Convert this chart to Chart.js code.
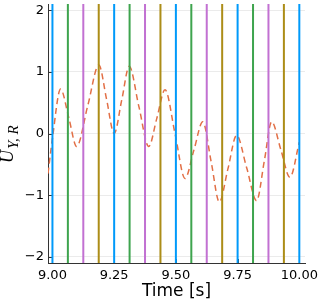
<!DOCTYPE html>
<html>
<head>
<meta charset="utf-8">
<script src="https://cdn.jsdelivr.net/npm/chart.js@4/dist/chart.umd.min.js"></script>
<style>
html,body{margin:0;padding:0;background:#fff;}
#c{display:block;}
</style>
</head>
<body>
<canvas id="c" width="320" height="304"></canvas>
<script>
// ---- data ----
const curveTime  = [8.982, 9.000, 9.033, 9.066, 9.098, 9.143, 9.188, 9.219, 9.250, 9.281, 9.311, 9.350, 9.390, 9.423, 9.456, 9.497, 9.537, 9.573, 9.609, 9.643, 9.676, 9.711, 9.746, 9.787, 9.827, 9.858, 9.888, 9.925, 9.962, 10.000];
const curveValue = [-0.65, -0.08, 0.72, 0.26, -0.21, 0.45, 1.11, 0.56, 0.00, 0.55, 1.09, 0.44, -0.21, 0.25, 0.71, -0.01, -0.73, -0.27, 0.19, -0.46, -1.11, -0.57, -0.03, -0.56, -1.09, -0.45, 0.19, -0.26, -0.71, -0.14];

const blueTimes   = [9.0, 9.25, 9.5, 9.75, 10.0];
const greenTimes  = [9.0625, 9.3125, 9.5625, 9.8125];
const purpleTimes = [9.125, 9.375, 9.625, 9.875];
const goldTimes   = [9.1875, 9.4375, 9.6875, 9.9375];

const xTicks = [9.0, 9.25, 9.5, 9.75, 10.0];
const yTicks = [-2, -1, 0, 1, 2];

const X_MIN = 8.982, X_MAX = 10.023;
const Y_MIN = -2.1, Y_MAX = 2.1;

// ---- build datasets ----
function vlineData(times) {
  const out = [];
  times.forEach(t => { out.push({x: t, y: Y_MIN}); out.push({x: t, y: Y_MAX}); out.push({x: t, y: null}); });
  return out;
}
function vlineSet(times, color) {
  return { data: vlineData(times), borderColor: color, borderWidth: 2, pointRadius: 0, spanGaps: false, fill: false, tension: 0 };
}

const datasets = [
  vlineSet(blueTimes, '#009AFA'),
  vlineSet(greenTimes, '#3EA44E'),
  vlineSet(purpleTimes, '#C271D2'),
  vlineSet(goldTimes, '#AC8D18'),
  {
    data: curveTime.map((t, i) => ({x: t, y: curveValue[i]})),
    borderColor: '#E26F46', borderWidth: 1.5, borderDash: [6, 4],
    pointRadius: 0, fill: false, cubicInterpolationMode: 'monotone'
  }
];

const yTitlePlugin = {
  id: 'yTitle',
  afterDraw(chart) {
    const ctx = chart.ctx;
    ctx.save();
    ctx.translate(13, 163);
    ctx.rotate(-Math.PI / 2);
    ctx.fillStyle = '#000';
    ctx.textBaseline = 'alphabetic';
    ctx.textAlign = 'left';
    ctx.font = 'italic 18px "Liberation Serif"';
    ctx.fillText('U', 0, 0);
    const w = ctx.measureText('U').width;
    ctx.font = 'italic 15px "Liberation Serif"';
    ctx.fillText('Y, R', w + 1, 5);
    ctx.restore();
  }
};

const innerTicksPlugin = {
  id: 'innerTicks',
  beforeDatasetsDraw(chart) {
    const ctx = chart.ctx, a = chart.chartArea;
    const xs = chart.scales.x, ys = chart.scales.y;
    ctx.save();
    ctx.strokeStyle = '#333';
    ctx.lineWidth = 1;
    ctx.beginPath();
    yTicks.forEach(v => { const py = Math.round(ys.getPixelForValue(v)) + 0.5; ctx.moveTo(a.left, py); ctx.lineTo(a.left + 4, py); });
    xTicks.forEach(v => { const px = Math.round(xs.getPixelForValue(v)) + 0.5; ctx.moveTo(px, a.bottom); ctx.lineTo(px, a.bottom - 4); });
    ctx.stroke();
    ctx.restore();
  }
};

new Chart(document.getElementById('c'), {
  type: 'line',
  data: { datasets },
  plugins: [yTitlePlugin, innerTicksPlugin],
  options: {
    responsive: false,
    animation: false,
    events: [],
    layout: { padding: { left: 0, top: 4, right: 15, bottom: 0 } },
    plugins: { legend: { display: false }, tooltip: { enabled: false } },
    scales: {
      x: {
        type: 'linear', min: X_MIN, max: X_MAX,
        afterBuildTicks: s => { s.ticks = xTicks.map(v => ({value: v})); },
        afterFit: s => { s.height = 41; s.paddingLeft = 0; s.paddingRight = 0; },
        grid: { color: 'rgba(0,0,0,0.08)', lineWidth: 1, drawTicks: false },
        border: { color: '#333', width: 1 },
        ticks: { padding: 5, color: '#000', maxRotation: 0, autoSkip: false,
                 font: { family: '"DejaVu Sans"', size: 13 },
                 callback: v => Number(v).toFixed(2) },
        title: { display: true, text: 'Time [s]', color: '#000',
                 font: { family: '"DejaVu Sans"', size: 17 }, padding: { top: 0, bottom: 2 } }
      },
      y: {
        type: 'linear', min: Y_MIN, max: Y_MAX,
        afterBuildTicks: s => { s.ticks = yTicks.map(v => ({value: v})); },
        afterFit: s => { s.width = 48; s.paddingTop = 0; s.paddingBottom = 0; },
        grid: { color: 'rgba(0,0,0,0.08)', lineWidth: 1, drawTicks: false },
        border: { color: '#333', width: 1 },
        ticks: { padding: 4, color: '#000', autoSkip: false,
                 font: { family: '"DejaVu Sans"', size: 13 },
                 callback: v => (v < 0 ? '\u2212' + Math.abs(v) : String(v)) }
      }
    }
  }
});
</script>
</body>
</html>
